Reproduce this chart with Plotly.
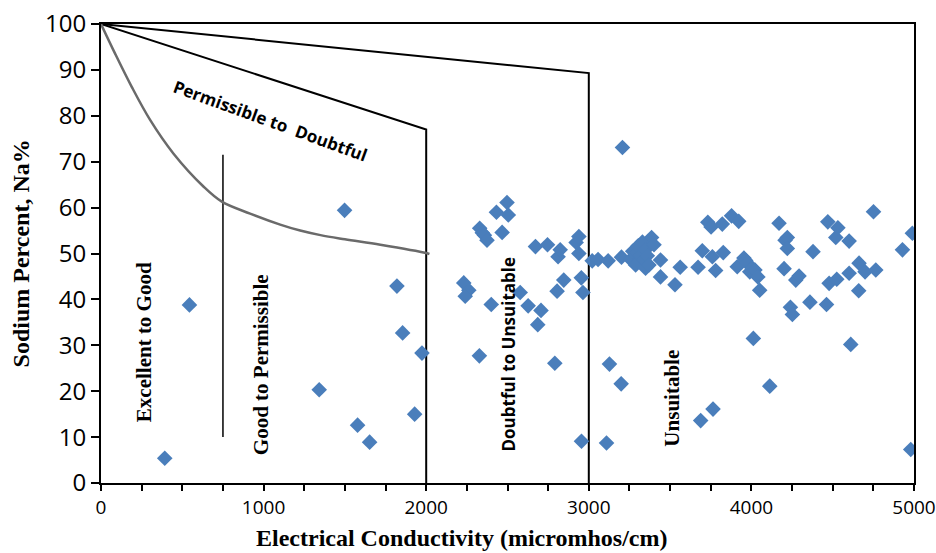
import plotly.graph_objects as go

# ---- data ----
ec = [392, 544, 1342, 1498, 1578, 1652, 1820, 1855, 1929, 1974,
      2231, 2262, 2240, 2327, 2329, 2345, 2358, 2374, 2400, 2432, 2467, 2497, 2505,
      2578, 2627, 2672, 2686, 2706, 2746, 2791, 2805, 2811, 2824, 2846, 2922, 2939,
      2939, 2954, 2955, 2964,
      3021, 3057, 3109, 3119, 3127, 3199, 3201, 3207, 3257, 3270, 3288, 3298, 3304,
      3320, 3330, 3339, 3349, 3349, 3360, 3370, 3386, 3401, 3441, 3441, 3530, 3562,
      3672, 3688, 3698, 3732, 3752, 3760, 3764, 3780, 3821, 3827, 3878, 3913, 3922,
      3954, 3965, 3975, 3990, 4006, 4012, 4022, 4040, 4051, 4113,
      4170, 4201, 4207, 4221, 4221, 4240, 4252, 4273, 4293, 4360, 4379, 4462, 4470,
      4478, 4519, 4525, 4532, 4601, 4601, 4611, 4660, 4662, 4699, 4751, 4765, 4929,
      4980, 4990]
na = [5.4, 38.8, 20.3, 59.4, 12.6, 8.9, 42.9, 32.7, 15.0, 28.3,
      43.6, 42.0, 40.7, 27.7, 55.5, 54.5, 54.0, 52.9, 38.9, 59.0, 54.6, 61.1, 58.4,
      41.5, 38.6, 51.5, 34.5, 37.6, 51.9, 26.1, 41.8, 49.3, 50.8, 44.2, 52.4, 53.7,
      50.0, 44.7, 9.1, 41.5,
      48.4, 48.7, 8.7, 48.4, 25.9, 21.6, 49.2, 73.1, 48.7, 50.5, 47.5, 50.2, 51.7,
      49.5, 52.5, 48.6, 50.8, 46.8, 49.5, 47.5, 53.5, 51.9, 48.6, 44.9, 43.2, 47.0,
      47.0, 13.6, 50.6, 56.8, 55.8, 49.3, 16.1, 46.3, 56.4, 50.2, 58.2, 47.1, 57.0,
      49.0, 48.5, 47.9, 46.0, 46.8, 31.5, 46.4, 44.9, 42.0, 21.1,
      56.6, 46.7, 52.9, 53.5, 51.1, 38.3, 36.7, 44.2, 45.1, 39.4, 50.4, 38.9, 56.9,
      43.5, 53.5, 44.4, 55.6, 52.7, 45.7, 30.2, 41.9, 47.9, 46.0, 59.1, 46.4, 50.8,
      7.3, 54.4]

# class boundaries (Wilcox diagram)
top_x = [0, 3000, 3000]
top_y = [100, 89.3, 0]
mid_x = [0, 2000, 2000]
mid_y = [100, 77, 0]
curve_x = [0, 86, 189, 302, 445, 630, 743, 917, 1102, 1225, 1350, 1500, 1718, 2000, 2020]
curve_y = [100, 93.6, 86.3, 79.1, 71.8, 64.6, 61.3, 58.7, 56.3, 55.0, 54.0, 53.1, 51.9, 50.1, 49.9]
sep_x = [750, 750]
sep_y = [10, 71.5]

zone_labels = ["Permissible to  Doubtful", "Excellent to Good", "Good to Permissible",
               "Doubtful to Unsuitable", "Unsuitable"]
zone_x = [1040, 265, 985, 2506, 3515]
zone_y = [79, 30.7, 25.7, 28.1, 18.5]

x_title = "Electrical Conductivity (micromhos/cm)"
y_title = "Sodium Percent, Na%"

fig = go.Figure()
black = dict(color="black", width=2)
fig.add_trace(go.Scatter(x=top_x, y=top_y, mode="lines", line=black, hoverinfo="skip"))
fig.add_trace(go.Scatter(x=mid_x, y=mid_y, mode="lines", line=black, hoverinfo="skip"))
fig.add_trace(go.Scatter(x=sep_x, y=sep_y, mode="lines", line=dict(color="black", width=1.5),
                         hoverinfo="skip"))
fig.add_trace(go.Scatter(x=curve_x, y=curve_y, mode="lines", line_shape="spline",
                         line=dict(color="#6a6a6a", width=2.5), hoverinfo="skip"))
fig.add_trace(go.Scatter(x=ec, y=na, mode="markers",
                         marker=dict(symbol="diamond", size=12, color="#4A7EBB")))

sans = "Open Sans"
serif = "Liberation Serif"
styles = [
    dict(family=sans, size=17, angle=20),
    dict(family=serif, size=21, angle=-90),
    dict(family=serif, size=21, angle=-90),
    dict(family=sans, size=17, angle=-90),
    dict(family=serif, size=21, angle=-90),
]
for t, x, y, s in zip(zone_labels, zone_x, zone_y, styles):
    fig.add_annotation(x=x, y=y, text="<b>%s</b>" % t, showarrow=False,
                       textangle=s["angle"],
                       font=dict(family=s["family"], size=s["size"], color="black"))

# axis titles placed as in the reference (x title sits left of plot centre)
fig.add_annotation(xref="paper", yref="paper", x=0.443, y=-0.119,
                   xanchor="center", yanchor="middle", showarrow=False,
                   text="<b>%s</b>" % x_title,
                   font=dict(family=serif, size=24, color="black"))
fig.add_annotation(xref="paper", yref="paper", x=-0.0985, y=0.5,
                   xanchor="center", yanchor="middle", showarrow=False, textangle=-90,
                   text="<b>%s</b>" % y_title,
                   font=dict(family=serif, size=24, color="black"))

fig.update_layout(
    width=936, height=553,
    margin=dict(l=101, r=22, t=24, b=70),
    paper_bgcolor="white", plot_bgcolor="white",
    showlegend=False,
)
fig.update_xaxes(
    range=[0, 5000], dtick=1000, tick0=0, automargin=False,
    showgrid=False, zeroline=False,
    showline=True, linecolor="black", linewidth=2, mirror=True,
    ticks="outside", ticklen=6, tickwidth=1.5, tickcolor="black",
    minor=dict(dtick=250, ticks="outside", ticklen=6, tickwidth=1.5, tickcolor="black"),
    tickfont=dict(family=sans, size=19, color="black"),
)
fig.update_yaxes(
    range=[0, 100], dtick=10, automargin=False,
    showgrid=False, zeroline=False,
    showline=True, linecolor="black", linewidth=2, mirror=True,
    ticks="outside", ticklen=8, tickwidth=1.5, tickcolor="black",
    tickfont=dict(family=sans, size=24, color="black"),
)

fig.write_html("out.html")
